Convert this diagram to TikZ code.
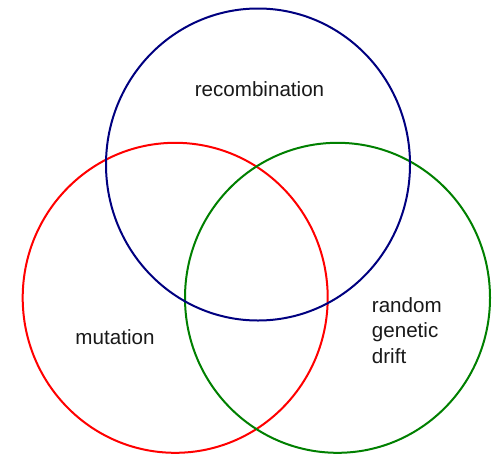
\documentclass[tikz,border=0pt]{standalone}
\usepackage{fontspec}
\setmainfont{Liberation Sans}
\definecolor{cblue}{RGB}{0,0,128}
\definecolor{cred}{RGB}{255,0,0}
\definecolor{cgreen}{RGB}{0,128,0}
\definecolor{ctext}{RGB}{25,25,25}
\begin{document}
\begin{tikzpicture}[x=1pt,y=-1pt,
  ring/.style={line width=2pt},
  lbl/.style={text=ctext,inner sep=0pt,font=\fontsize{20.6}{25.5}\selectfont}]
\useasboundingbox[fill=white] (0,0) rectangle (494,455);
\draw[ring,cred] (175.2,297.8) ellipse [x radius=152.5, y radius=155];
\draw[ring,cgreen] (337.5,297.8) ellipse [x radius=152.5, y radius=155];
\draw[ring,cblue] (258,164.5) ellipse [x radius=152, y radius=156];
\node[lbl,anchor=base] (rec) at (259.5,96.5) {recombination};
\node[lbl,anchor=base] (mut) at (115,344.3) {mutation};
\node[lbl,anchor=north west,align=left] (rgd) at (371.7,297.3) {random\\genetic\\drift};
\end{tikzpicture}
\end{document}
